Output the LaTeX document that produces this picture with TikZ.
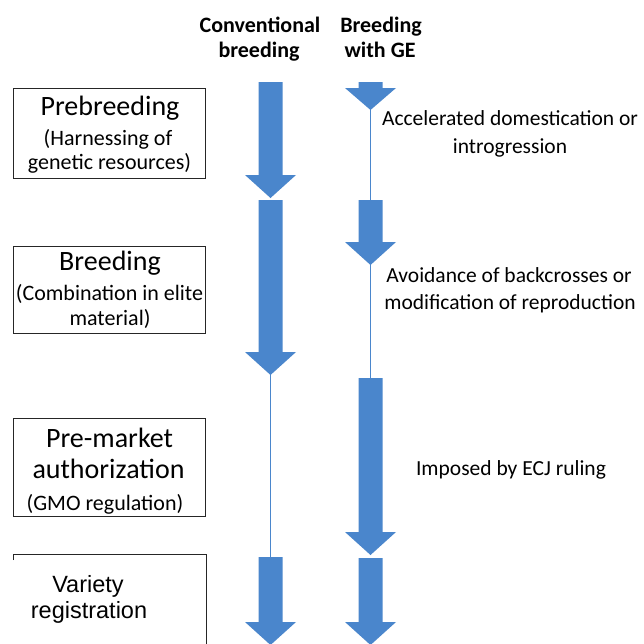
\documentclass[tikz,border=0pt]{standalone}
\usepackage{fontspec}
\setmainfont{Carlito}
\newfontfamily\arialf{Liberation Sans}
\definecolor{arrowblue}{RGB}{74,134,204}
\definecolor{arrowedge}{RGB}{60,115,180}
\newcommand\blockarrow[5]{%
  \coordinate (#5top) at (#1,#2);
  \coordinate (#5tip) at (#1,#4);
  \fill[blk] (#1-12,#2) -- (#1+12,#2) -- (#1+12,#3) -- (#1+25.5,#3) -- (#1,#4) -- (#1-25.5,#3) -- (#1-12,#3) -- cycle;}
\begin{document}
\begin{tikzpicture}[x=1pt,y=-1pt,
  blk/.style={fill=arrowblue},
  thinline/.style={draw=arrowblue, line width=1.5pt},
  box/.style={draw=black!85, line width=1pt},
  txt/.style={anchor=base, inner sep=0pt},
  title/.style={txt, font=\fontsize{28}{30}\selectfont},
  sub/.style={txt, font=\fontsize{22}{24}\selectfont},
  head/.style={txt, font=\bfseries\fontsize{22}{24}\selectfont},
  note/.style={txt, font=\fontsize{21.5}{24}\selectfont},
  var/.style={txt, font=\arialf\fontsize{23.5}{26}\selectfont}]
\useasboundingbox (0,0) rectangle (644,643);
\clip (0,0) rectangle (644,643);
\fill[white] (0,0) rectangle (644,643);

% headers
\node[head] (h1a) at (260,32) {Conventional};
\node[head] (h1b) at (259,57) {breeding};
\node[head] (h2a) at (381,32) {Breeding};
\node[head] (h2b) at (380,57) {with GE};

% boxes
\node[box, minimum width=192pt, minimum height=90pt, inner sep=0pt] (box1) at (109,133) {};
\node[box, minimum width=192pt, minimum height=87pt, inner sep=0pt] (box2) at (109,289.5) {};
\node[box, minimum width=192pt, minimum height=98pt, inner sep=0pt] (box3) at (109,467) {};
\coordinate (b4a) at (13,560);
\coordinate (b4b) at (13,554);
\coordinate (b4c) at (206,554);
\coordinate (b4d) at (206,650);
\draw[box] (b4a) -- (b4b) -- (b4c) -- (b4d);

% box texts
\node[title] (t1) at (110,115) {Prebreeding};
\node[sub] (t1b) at (108,145) {(Harnessing of};
\node[sub] (t1c) at (109.5,169) {genetic resources)};
\node[title] (t2) at (110,270) {Breeding};
\node[sub] (t2b) at (109.5,300) {(Combination in elite};
\node[sub] (t2c) at (110,325) {material)};
\node[title] (t3) at (109.5,447) {Pre-market};
\node[title] (t3b) at (108.5,478) {authorization};
\node[sub] (t3c) at (105,510) {(GMO regulation)};
\node[var] (t4) at (88,592) {Variety};
\node[var] (t4b) at (89,618) {registration};

% notes
\node[note] (n1) at (510,125) {Accelerated domestication or};
\node[note] (n1b) at (510,153) {introgression};
\node[note] (n2) at (509,282) {Avoidance of backcrosses or};
\node[note] (n2b) at (510,309) {modification of reproduction};
\node[note] (n3) at (511,475) {Imposed by ECJ ruling};

% conventional breeding arrows
\blockarrow{270.5}{82}{175}{198}{ca}
\blockarrow{270.5}{200}{352}{375}{cb}
\blockarrow{270.5}{557}{622}{645}{cc}
\draw[thinline] (cbtip) -- (cctop);

% breeding with GE arrows
\blockarrow{370.5}{82}{88}{110}{ga}
\blockarrow{370.5}{200}{242}{265}{gb}
\blockarrow{370.5}{378}{532}{555}{gc}
\blockarrow{370.5}{558}{622}{645}{gd}
\draw[thinline] (gatip) -- (gbtop);
\draw[thinline] (gbtip) -- (gctop);
\end{tikzpicture}
\end{document}
